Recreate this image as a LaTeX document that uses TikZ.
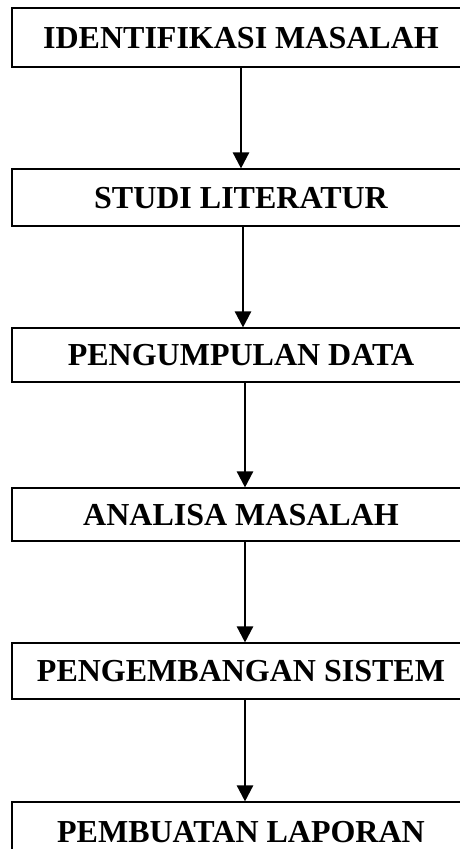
\documentclass[tikz,border=0pt]{standalone}
\usepackage{fontspec}
\setmainfont{Liberation Serif}
\usetikzlibrary{arrows.meta}
\tikzset{
  stepbox/.style={draw=black, line width=1.1pt, minimum width=458pt, inner sep=0pt,
    font=\fontsize{32}{38}\selectfont\bfseries, text depth=0pt, anchor=center},
  flowarrow/.style={draw=black, line width=2.4pt, -{Triangle[width=16pt,length=16pt]}, shorten >=0pt}
}
\begin{document}
\begin{tikzpicture}[x=1pt,y=-1pt]
\useasboundingbox (0,0) rectangle (460,849);
\clip (0,0) rectangle (460,849);
\fill[white] (0,0) rectangle (460,849);
\node[stepbox, minimum height=59pt] (b1) at (241,37.5) {IDENTIFIKASI MASALAH};
\node[stepbox, minimum height=57pt] (b2) at (241,197.5) {STUDI LITERATUR};
\node[stepbox, minimum height=54pt] (b3) at (241,355) {PENGUMPULAN DATA};
\node[stepbox, minimum height=53pt] (b4) at (241,514.5) {ANALISA MASALAH};
\node[stepbox, minimum height=56pt] (b5) at (241,671) {PENGEMBANGAN SISTEM};
\node[stepbox, minimum height=59pt] (b6) at (241,831.5) {PEMBUATAN LAPORAN};
\draw[flowarrow] (b1.south) -- (b2.north);
\draw[flowarrow] ([xshift=2pt]b2.south) -- ([xshift=2pt]b3.north);
\draw[flowarrow] ([xshift=4pt]b3.south) -- ([xshift=4pt]b4.north);
\draw[flowarrow] ([xshift=4pt]b4.south) -- ([xshift=4pt]b5.north);
\draw[flowarrow] ([xshift=4pt]b5.south) -- ([xshift=4pt]b6.north);
\end{tikzpicture}
\end{document}
